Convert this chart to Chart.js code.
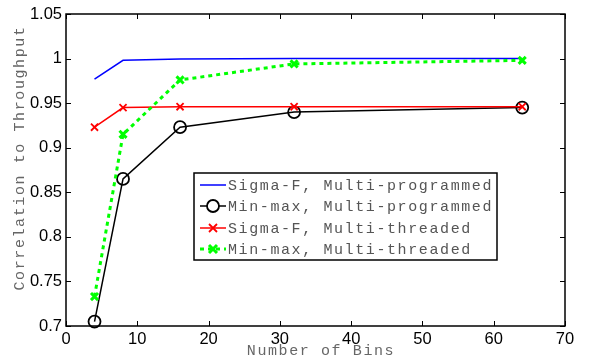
<!DOCTYPE html>
<html>
<head>
<meta charset="utf-8">
<script src="https://cdn.jsdelivr.net/npm/chart.js@4.4.0/dist/chart.umd.min.js"></script>
<style>
  html, body { margin: 0; padding: 0; background: #fff; }
  #wrap { width: 595px; height: 360px; }
</style>
</head>
<body>
<div id="wrap"><canvas id="chart" width="595" height="360"></canvas></div>
<script>
// bins on the x axis
var aBins = [4, 8, 16, 32, 64];
var aSigmaProg = [0.977, 0.998, 0.9995, 1.0, 1.0];
var aMinMaxProg = [0.705, 0.865, 0.923, 0.940, 0.945];
var aSigmaThread = [0.923, 0.945, 0.946, 0.946, 0.946];
var aMinMaxThread = [0.733, 0.915, 0.976, 0.994, 0.998];
var aSeriesNames = ['Sigma-F, Multi-programmed', 'Min-max, Multi-programmed', 'Sigma-F, Multi-threaded', 'Min-max, Multi-threaded'];
var aXTicks = [0, 10, 20, 30, 40, 50, 60, 70];
var aYTicks = [0.7, 0.75, 0.8, 0.85, 0.9, 0.95, 1, 1.05];

function toPoints(aValues) {
    var aPts = [];
    for (var i = 0; i < aBins.length; i++) {
        aPts.push({ x: aBins[i], y: aValues[i] });
    }
    return aPts;
}

var sMono = '"Liberation Mono", "DejaVu Sans Mono", monospace';
var sSans = '"Liberation Sans", Arial, sans-serif';

function setMonoFont(ctx) {
    ctx.font = '15px ' + sMono;
    ctx.letterSpacing = '1.6px';
}

// MATLAB style box, inward ticks, legend and axis titles
var matlabPlugin = {
    id: 'matlab',
    beforeDraw: function (chart) {
        var ctx = chart.ctx;
        ctx.save();
        ctx.fillStyle = '#fff';
        ctx.fillRect(0, 0, chart.width, chart.height);
        ctx.restore();
    },
    afterDraw: function (chart) {
        var ctx = chart.ctx;
        var a = chart.chartArea;
        var xs = chart.scales.x, ys = chart.scales.y;
        ctx.save();
        ctx.strokeStyle = '#000';
        ctx.lineWidth = 1.5;
        ctx.strokeRect(a.left, a.top, a.right - a.left, a.bottom - a.top);
        ctx.lineWidth = 1;
        ctx.beginPath();
        aXTicks.forEach(function (v) {
            var px = Math.round(xs.getPixelForValue(v)) + 0.5;
            ctx.moveTo(px, a.bottom); ctx.lineTo(px, a.bottom - 5);
            ctx.moveTo(px, a.top); ctx.lineTo(px, a.top + 5);
        });
        aYTicks.forEach(function (v) {
            var py = Math.round(ys.getPixelForValue(v)) + 0.5;
            ctx.moveTo(a.left, py); ctx.lineTo(a.left + 5, py);
            ctx.moveTo(a.right, py); ctx.lineTo(a.right - 5, py);
        });
        ctx.stroke();

        // axis titles
        ctx.fillStyle = '#666';
        setMonoFont(ctx);
        ctx.textAlign = 'center';
        ctx.textBaseline = 'middle';
        ctx.fillText('Number of Bins', 321, 351);
        ctx.save();
        ctx.translate(20, 158);
        ctx.rotate(-Math.PI / 2);
        ctx.fillText('Correlation to Throughput', 0, 0);
        ctx.restore();

        // legend box
        var lx = 194, ly = 173, lw = 303, lh = 87;
        ctx.fillStyle = '#fff';
        ctx.fillRect(lx, ly, lw, lh);
        ctx.strokeStyle = '#000';
        ctx.lineWidth = 1.5;
        ctx.strokeRect(lx, ly, lw, lh);
        var aRowY = [185, 206, 228, 249];
        chart.data.datasets.forEach(function (ds, i) {
            var y = aRowY[i];
            ctx.save();
            ctx.strokeStyle = ds.borderColor;
            ctx.lineWidth = ds.borderWidth;
            ctx.setLineDash(ds.borderDash || []);
            ctx.beginPath();
            ctx.moveTo(200, y); ctx.lineTo(226, y);
            ctx.stroke();
            ctx.setLineDash([]);
            if (ds.pointStyle === 'circle' && ds.pointRadius > 0) {
                ctx.lineWidth = ds.pointBorderWidth;
                ctx.beginPath();
                ctx.arc(213, y, ds.pointRadius, 0, Math.PI * 2);
                ctx.fillStyle = '#fff';
                ctx.fill();
                ctx.stroke();
            } else if (ds.pointStyle === 'crossRot') {
                var r = ds.pointRadius * 0.8;
                ctx.lineWidth = ds.pointBorderWidth;
                ctx.beginPath();
                ctx.moveTo(213 - r, y - r); ctx.lineTo(213 + r, y + r);
                ctx.moveTo(213 - r, y + r); ctx.lineTo(213 + r, y - r);
                ctx.stroke();
            }
            ctx.restore();
            ctx.fillStyle = '#555';
            setMonoFont(ctx);
            ctx.textAlign = 'left';
            ctx.textBaseline = 'middle';
            ctx.fillText(aSeriesNames[i], 228, y + 1);
        });
        ctx.restore();
    }
};

new Chart(document.getElementById('chart').getContext('2d'), {
    type: 'line',
    data: {
        datasets: [{
            label: aSeriesNames[0],
            data: toPoints(aSigmaProg),
            borderColor: '#0000ff',
            borderWidth: 1.5,
            pointRadius: 0,
            pointStyle: false,
            order: 4
        }, {
            label: aSeriesNames[1],
            data: toPoints(aMinMaxProg),
            borderColor: '#000000',
            borderWidth: 1.5,
            pointStyle: 'circle',
            pointRadius: 6,
            pointBorderWidth: 1.8,
            pointBackgroundColor: 'rgba(255,255,255,0)',
            pointBorderColor: '#000000',
            order: 3
        }, {
            label: aSeriesNames[2],
            data: toPoints(aSigmaThread),
            borderColor: '#ff0000',
            borderWidth: 1.5,
            pointStyle: 'crossRot',
            pointRadius: 5,
            pointBorderWidth: 1.8,
            pointBorderColor: '#ff0000',
            order: 2
        }, {
            label: aSeriesNames[3],
            data: toPoints(aMinMaxThread),
            borderColor: '#00ff00',
            borderWidth: 3,
            borderDash: [4, 4],
            pointStyle: 'crossRot',
            pointRadius: 5,
            pointBorderWidth: 3,
            pointBorderColor: '#00ff00',
            order: 1
        }]
    },
    options: {
        responsive: false,
        animation: false,
        clip: false,
        layout: { padding: { left: 0, top: 14, right: 30, bottom: 0 } },
        plugins: { legend: { display: false }, tooltip: { enabled: false } },
        scales: {
            x: {
                type: 'linear',
                min: 0, max: 70,
                grid: { display: false, drawTicks: false },
                border: { display: false },
                afterBuildTicks: function (s) { s.ticks = aXTicks.map(function (v) { return { value: v }; }); },
                afterFit: function (s) { s.height = 34; },
                ticks: { color: '#000', font: { family: sSans, size: 16.5 }, padding: 4, maxRotation: 0 }
            },
            y: {
                type: 'linear',
                min: 0.7, max: 1.05,
                grid: { display: false, drawTicks: false },
                border: { display: false },
                afterBuildTicks: function (s) { s.ticks = aYTicks.map(function (v) { return { value: v }; }); },
                afterFit: function (s) { s.width = 66; },
                ticks: {
                    color: '#000', font: { family: sSans, size: 16.5 }, padding: 4,
                    callback: function (v) { return String(+v.toFixed(2)); }
                }
            }
        }
    },
    plugins: [matlabPlugin]
});
</script>
</body>
</html>
